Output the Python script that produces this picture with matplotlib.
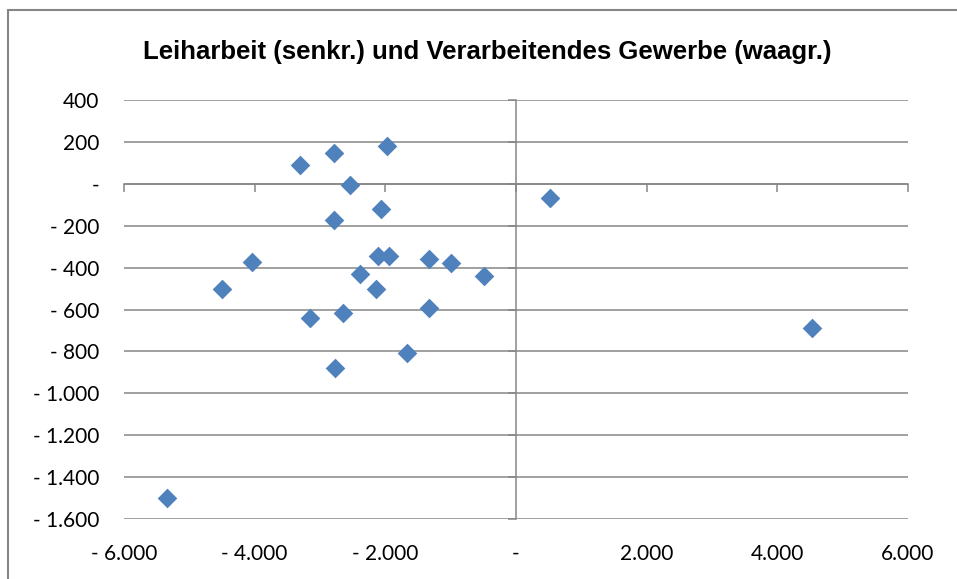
import numpy as np
import matplotlib
matplotlib.use('Agg')
import matplotlib.pyplot as plt
from matplotlib.ticker import FuncFormatter, MultipleLocator
from matplotlib.patches import Rectangle

# Verarbeitendes Gewerbe (waagr.) / Leiharbeit (senkr.)
gewerbe = [-3300, -2790, -1975, -2540, -2066, -2786, -2112, -1944, -1332,
           -995, -490, -4041, -4500, -2388, -2143, -3153, -2648, -1332,
           -1668, -2771, 520, 4531, -5342]
leiharbeit = [91, 148, 181, -5, -119, -172, -344, -344, -358,
              -377, -439, -372, -501, -430, -501, -640, -616, -592,
              -807, -878, -67, -687, -1499]

title = 'Leiharbeit (senkr.) und Verarbeitendes Gewerbe (waagr.)'
grey = '#868686'


def de_fmt(v, pos):
    if abs(v) < 1e-9:
        return '-'
    s = '{:,.0f}'.format(abs(v)).replace(',', '.')
    return '- ' + s if v < 0 else s


fig = plt.figure(figsize=(9.57, 5.79), dpi=100)
ax = fig.add_axes([124 / 957, 1 - 519 / 579, 784 / 957, 419 / 579])

ax.scatter(gewerbe, leiharbeit, marker='D', s=100, color='#4F81BD',
           linewidths=0, zorder=3, clip_on=False)

ax.set_xlim(-6000, 6000)
ax.set_ylim(-1600, 400)
ax.xaxis.set_major_locator(MultipleLocator(2000))
ax.yaxis.set_major_locator(MultipleLocator(200))
ax.xaxis.set_major_formatter(FuncFormatter(de_fmt))
ax.yaxis.set_major_formatter(FuncFormatter(de_fmt))

ax.grid(axis='y', color=grey, linewidth=1.1, zorder=0)
ax.set_axisbelow(True)

# axes crossing at zero, labels stay at the edges
ax.spines['bottom'].set_visible(False)
ax.spines['left'].set_visible(False)
ax.spines['top'].set_position(('data', 0))
ax.spines['right'].set_position(('data', 0))
for k in ('top', 'right'):
    ax.spines[k].set_color(grey)
    ax.spines[k].set_linewidth(1.1)
    ax.spines[k].set_zorder(1)

ax.tick_params(axis='x', bottom=False, top=True, labelbottom=True,
               labeltop=False, direction='in', length=6, width=1.1,
               color=grey, pad=18)
ax.tick_params(axis='y', left=False, right=True, labelleft=True,
               labelright=False, direction='in', length=6, width=1.1,
               color=grey, pad=18)
for lab in ax.get_xticklabels() + ax.get_yticklabels():
    lab.set_fontfamily(['Lato', 'DejaVu Sans'])
    lab.set_fontsize(15)
    lab.set_color('black')

fig.text(487 / 957, 1 - 52 / 579, title, ha='center', va='center',
         fontsize=18.5, fontweight='bold',
         family=['Liberation Sans', 'DejaVu Sans'])

fig.add_artist(Rectangle((8 / 957, -0.1), 2, 1 - 10 / 579 + 0.1,
                         transform=fig.transFigure, fill=False,
                         edgecolor=grey, linewidth=1.5))

fig.savefig('out.png', dpi=100)
